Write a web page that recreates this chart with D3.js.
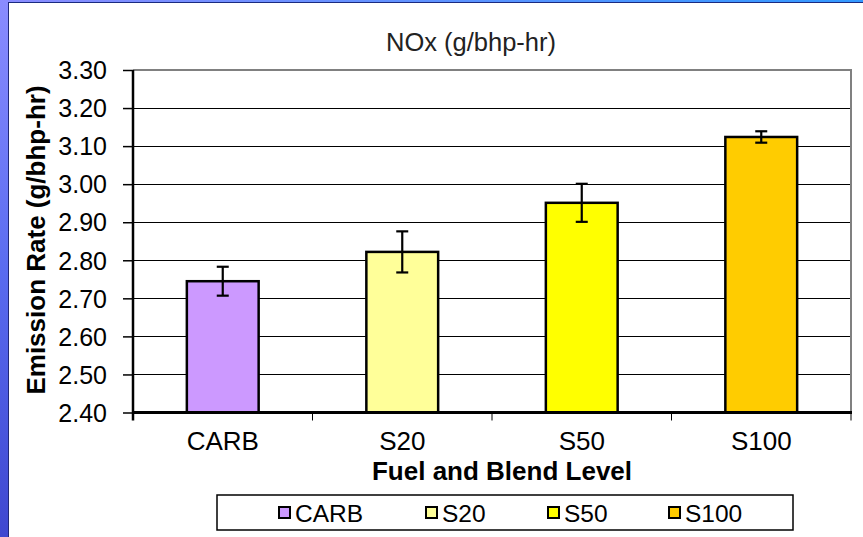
<!DOCTYPE html>
<html>
<head>
<meta charset="utf-8">
<script src="https://cdn.jsdelivr.net/npm/d3@7/dist/d3.min.js"></script>
<style>
html,body{margin:0;padding:0;background:#fff;}
svg{display:block;}
text{font-family:"Liberation Sans",Arial,sans-serif;}
</style>
</head>
<body>
<script>
const categories = ["CARB", "S20", "S50", "S100"];
const values = [2.745, 2.822, 2.951, 3.124];
const errors = [0.038, 0.054, 0.050, 0.015];
const colors = ["#CC99FF", "#FFFF99", "#FFFF00", "#FFCC00"];
const yTicks = [2.40, 2.50, 2.60, 2.70, 2.80, 2.90, 3.00, 3.10, 3.20, 3.30];
const title = "NOx (g/bhp-hr)";
const xTitle = "Fuel and Blend Level";
const yTitle = "Emission Rate (g/bhp-hr)";

const W = 863, H = 537;
const svg = d3.select("body").append("svg").attr("width", W).attr("height", H);

// decorative slide frame
const defs = svg.append("defs");
const lg = defs.append("linearGradient").attr("id","leftg").attr("x1",0).attr("y1",0).attr("x2",0).attr("y2",1);
lg.append("stop").attr("offset","0%").attr("stop-color","#8A8CFF");
lg.append("stop").attr("offset","50%").attr("stop-color","#5A6CF0");
lg.append("stop").attr("offset","100%").attr("stop-color","#3F48D0");
const tg = defs.append("linearGradient").attr("id","topg").attr("x1",0).attr("y1",0).attr("x2",1).attr("y2",0);
tg.append("stop").attr("offset","0%").attr("stop-color","#8A8CFF");
tg.append("stop").attr("offset","100%").attr("stop-color","#3399FF");
svg.append("rect").attr("x",0).attr("y",0).attr("width",W).attr("height",2).attr("fill","url(#topg)");
svg.append("line").attr("x1",8).attr("x2",W).attr("y1",2.5).attr("y2",2.5).attr("stroke","#1a2a80").attr("stroke-width",1);
svg.append("rect").attr("x",0).attr("y",0).attr("width",8).attr("height",H).attr("fill","url(#leftg)");
svg.append("line").attr("x1",8.5).attr("x2",8.5).attr("y1",2).attr("y2",H).attr("stroke","#20287a").attr("stroke-width",1);

const m = {left:133, right:851, top:70, bottom:412.5};
const x = d3.scaleBand().domain(categories).range([m.left, m.right]).paddingInner(0.6).paddingOuter(0.3);
const xb = d3.scaleBand().domain(categories).range([m.left, m.right]);
const y = d3.scaleLinear().domain([2.40, 3.30]).range([m.bottom, m.top]);

// gridlines
svg.append("g").selectAll("line").data(yTicks.filter(t => t > 2.40 && t < 3.30)).join("line")
  .attr("x1", m.left).attr("x2", m.right)
  .attr("y1", d => Math.round(y(d)) + 0.5).attr("y2", d => Math.round(y(d)) + 0.5)
  .attr("stroke", "#000").attr("stroke-width", 1);

// top & right frame (gray)
svg.append("line").attr("x1", m.left).attr("x2", m.right + 1).attr("y1", m.top).attr("y2", m.top)
  .attr("stroke", "#808080").attr("stroke-width", 2);
svg.append("line").attr("x1", m.right).attr("x2", m.right).attr("y1", m.top).attr("y2", m.bottom)
  .attr("stroke", "#808080").attr("stroke-width", 2);

// bars
svg.append("g").selectAll("rect").data(categories).join("rect")
  .attr("x", d => x(d)).attr("width", x.bandwidth())
  .attr("y", (d,i) => y(values[i])).attr("height", (d,i) => m.bottom - y(values[i]))
  .attr("fill", (d,i) => colors[i]).attr("stroke", "#000").attr("stroke-width", 2.5);

// error bars
const eb = svg.append("g").attr("stroke", "#000").attr("stroke-width", 2.2);
categories.forEach((c, i) => {
  const cx = x(c) + x.bandwidth() / 2;
  eb.append("line").attr("x1", cx).attr("x2", cx).attr("y1", y(values[i] + errors[i])).attr("y2", y(values[i] - errors[i]));
  eb.append("line").attr("x1", cx - 6).attr("x2", cx + 6).attr("y1", y(values[i] + errors[i])).attr("y2", y(values[i] + errors[i]));
  eb.append("line").attr("x1", cx - 6).attr("x2", cx + 6).attr("y1", y(values[i] - errors[i])).attr("y2", y(values[i] - errors[i]));
});

// y axis
const yAxis = d3.axisLeft(y).tickValues(yTicks).tickFormat(d3.format(".2f")).tickSize(10).tickPadding(16);
const ya = svg.append("g").attr("transform", `translate(${m.left},0)`).call(yAxis);
ya.select(".domain").remove();
ya.selectAll(".tick line").attr("stroke", "#000").attr("stroke-width", 1.5);
ya.selectAll(".tick text").attr("font-size", 25).attr("fill", "#000").attr("font-family", '"Liberation Sans",Arial,sans-serif').attr("dy", "0.35em");
svg.append("line").attr("x1", m.left).attr("x2", m.left).attr("y1", m.top).attr("y2", m.bottom + 8)
  .attr("stroke", "#000").attr("stroke-width", 2.5);

// x axis
const xAxis = d3.axisBottom(xb).tickSize(0).tickPadding(19);
const xa = svg.append("g").attr("transform", `translate(0,${m.bottom})`).call(xAxis);
xa.select(".domain").remove();
xa.selectAll(".tick text").attr("font-size", 26).attr("fill", "#000").attr("font-family", '"Liberation Sans",Arial,sans-serif');
svg.append("line").attr("x1", m.left - 1).attr("x2", m.right + 1).attr("y1", m.bottom).attr("y2", m.bottom)
  .attr("stroke", "#000").attr("stroke-width", 3);
// category separator ticks
svg.append("g").selectAll("line").data(categories.slice(1).concat(["_end"])).join("line")
  .attr("x1", d => d === "_end" ? m.right : xb(d)).attr("x2", d => d === "_end" ? m.right : xb(d))
  .attr("y1", m.bottom).attr("y2", m.bottom + 8).attr("stroke", "#000").attr("stroke-width", 1);

// titles
svg.append("text").attr("x", 471).attr("y", 51).attr("text-anchor", "middle")
  .attr("font-size", 25.5).attr("fill", "#222").text(title);
svg.append("text").attr("x", 502).attr("y", 480).attr("text-anchor", "middle")
  .attr("font-size", 26).attr("font-weight", "bold").attr("fill", "#000").text(xTitle);
svg.append("text").attr("transform", "translate(45,240) rotate(-90)").attr("text-anchor", "middle")
  .attr("font-size", 26).attr("font-weight", "bold").attr("fill", "#000").text(yTitle);

// legend
const leg = svg.append("g");
leg.append("rect").attr("x", 217).attr("y", 495).attr("width", 576).attr("height", 35)
  .attr("fill", "#fff").attr("stroke", "#000").attr("stroke-width", 1.5);
const legX = [279, 426, 548, 669];
categories.forEach((c, i) => {
  leg.append("rect").attr("x", legX[i]).attr("y", 507).attr("width", 11).attr("height", 11)
    .attr("fill", colors[i]).attr("stroke", "#000").attr("stroke-width", 2);
  leg.append("text").attr("x", legX[i] + 16).attr("y", 521.5).attr("font-size", 24.5).attr("fill", "#000").text(c);
});
</script>
</body>
</html>
